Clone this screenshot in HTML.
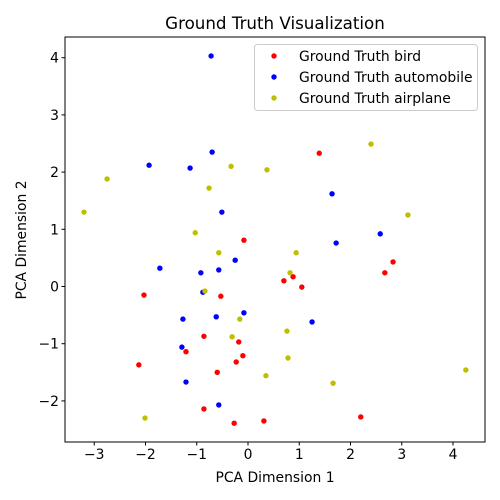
<!DOCTYPE html>
<html><head><meta charset="utf-8"><style>
body{margin:0;background:#fff}
svg{display:block;font-family:"DejaVu Sans","Liberation Sans",sans-serif}
</style></head><body>
<svg id="chart" width="500" height="500" viewBox="0 0 500 500">
<rect width="500" height="500" fill="#fff"/>
<text x="275" y="29" text-anchor="middle" font-size="16.7">Ground Truth Visualization</text>
<g id="plot"></g>
<g id="axes"></g>
<text x="275" y="482" text-anchor="middle" font-size="13.9">PCA Dimension 1</text>
<text x="0" y="0" transform="translate(26,240) rotate(-90)" text-anchor="middle" font-size="13.9">PCA Dimension 2</text>
<g>
<rect x="254.5" y="44.5" width="223" height="66" rx="3" fill="#fff" fill-opacity="0.8" stroke="#ccc"/>
<g><circle cx="274" cy="56" r="2.7" fill="#ff0000"/><text x="299" y="61" font-size="13.9">Ground Truth bird</text></g>
<g><circle cx="274" cy="77" r="2.7" fill="#0000ff"/><text x="299" y="82" font-size="13.9">Ground Truth automobile</text></g>
<g><circle cx="274" cy="98" r="2.7" fill="#bfbf00"/><text x="299" y="103" font-size="13.9">Ground Truth airplane</text></g>
</g>
</svg>
<script>
const birdX=[1.39,-0.08,2.83,2.67,0.70,0.88,1.05,-2.03,-0.53,-0.86,-0.18,-1.21,-0.10,-2.13,-0.23,-0.60,-0.86,2.20,0.31,-0.27];
const birdY=[2.33,0.81,0.43,0.24,0.10,0.17,-0.01,-0.15,-0.17,-0.87,-0.97,-1.14,-1.21,-1.37,-1.32,-1.50,-2.14,-2.28,-2.35,-2.39];
const autoX=[-0.72,-0.70,-1.93,-1.13,1.64,-0.51,2.58,1.72,-0.25,-1.72,-0.92,-0.57,-0.88,-0.08,-0.62,-1.27,1.25,-1.29,-1.21,-0.57];
const autoY=[4.03,2.35,2.12,2.07,1.62,1.30,0.92,0.76,0.46,0.32,0.24,0.29,-0.10,-0.46,-0.53,-0.57,-0.62,-1.06,-1.67,-2.07];
const planeX=[2.40,-0.33,0.37,-2.75,-0.76,-3.20,3.12,-1.03,-0.57,0.94,0.82,-0.84,-0.16,0.76,-0.31,0.78,4.25,0.35,1.66,-2.01];
const planeY=[2.49,2.10,2.04,1.88,1.72,1.30,1.25,0.94,0.59,0.59,0.24,-0.08,-0.57,-0.78,-0.88,-1.25,-1.46,-1.56,-1.69,-2.30];
const xTicks=[-3,-2,-1,0,1,2,3,4];
const yTicks=[-2,-1,0,1,2,3,4];

const NS="http://www.w3.org/2000/svg";
const L=65,R=485,T=37,B=442;
function sx(v){return 248+v*51.25;}
function sy(v){return 286.5-v*57.2;}
const plot=document.getElementById('plot');
const axes=document.getElementById('axes');
function mk(tag,attrs,parent){const e=document.createElementNS(NS,tag);for(const k in attrs)e.setAttribute(k,attrs[k]);parent.appendChild(e);return e;}
function series(xs,ys,color,name){
  for(let i=0;i<xs.length;i++){
    const c=mk('circle',{cx:sx(xs[i]),cy:sy(ys[i]),r:2.7,fill:color},plot);
    
    
  }
}
series(birdX,birdY,'#ff0000','bird');
series(autoX,autoY,'#0000ff','automobile');
series(planeX,planeY,'#bfbf00','airplane');
const frame=mk('rect',{x:L,y:T,width:R-L,height:B-T,fill:'none',stroke:'#000','stroke-width':1},axes);


xTicks.forEach(t=>{
  const x=sx(t);
  mk('line',{x1:x,x2:x,y1:B,y2:B+3.5,stroke:'#000'},axes);
  const tx=mk('text',{x:x,y:B+17,'text-anchor':'middle','font-size':13.9},axes);
  tx.textContent=(t<0?'\u2212':'')+Math.abs(t);
  
  
});
yTicks.forEach(t=>{
  const y=sy(t);
  mk('line',{x1:L-3.5,x2:L,y1:y,y2:y,stroke:'#000'},axes);
  const tx=mk('text',{x:L-6,y:y+5,'text-anchor':'end','font-size':13.9},axes);
  tx.textContent=(t<0?'\u2212':'')+Math.abs(t);
  
  
});
</script>
</body></html>
